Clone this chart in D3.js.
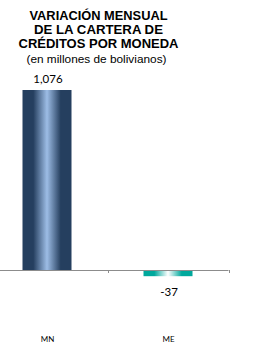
<!DOCTYPE html>
<html><head><meta charset="utf-8">
<script src="https://cdn.jsdelivr.net/npm/d3@7"></script>
<style>html,body{margin:0;padding:0;background:#fff;}svg{display:block;}</style>
</head><body>
<div id="chart"></div>
<script>
const categories = ["MN", "ME"];
const values = [1076, -37];
const valueLabels = ["1,076", "-37"];
const titleLines = ["VARIACIÓN MENSUAL", "DE LA CARTERA DE", "CRÉDITOS POR MONEDA"];
const subtitle = "(en millones de bolivianos)";

const W = 263, H = 343;
const svg = d3.select("#chart").append("svg").attr("width", W).attr("height", H);
const defs = svg.append("defs");
function grad(id, dark, light) {
  const g = defs.append("linearGradient").attr("id", id).attr("x1", "0%").attr("x2", "100%").attr("y1", "0%").attr("y2", "0%");
  [[0, dark], [0.22, dark], [0.5, light], [0.78, dark], [1, dark]].forEach(([o, c]) =>
    g.append("stop").attr("offset", o).attr("stop-color", c));
}
grad("gMN", "#253f5f", "#9dbde6");
grad("gME", "#00a89c", "#ffffff");
const fills = ["url(#gMN)", "url(#gME)"];

const x = d3.scaleBand().domain(categories).range([-13.5, 228.5]).padding(0);
const y = d3.scaleLinear().domain([0, 1076]).range([270, 90]);
const barW = x.bandwidth() * 0.405;

// title
const tg = svg.append("g").attr("font-family", "Liberation Sans, Arial, sans-serif").attr("text-anchor", "middle").attr("fill", "#000");
const titleWidths = [138, 129, 160];
titleLines.forEach((t, i) => tg.append("text").attr("x", 98.5).attr("y", 20 + i * 14)
  .attr("font-size", 12).attr("font-weight", "bold")
  .attr("textLength", titleWidths[i]).attr("lengthAdjust", "spacingAndGlyphs").text(t));
tg.append("text").attr("x", 96.5).attr("y", 63).attr("font-size", 10.5)
  .attr("textLength", 140).attr("lengthAdjust", "spacingAndGlyphs").text(subtitle);

// bars
svg.selectAll("rect.bar").data(categories).enter().append("rect")
  .attr("class", "bar")
  .attr("x", d => x(d) + (x.bandwidth() - barW) / 2)
  .attr("width", barW)
  .attr("y", (d, i) => Math.min(y(values[i]), y(0)))
  .attr("height", (d, i) => Math.abs(y(values[i]) - y(0)))
  .attr("fill", (d, i) => fills[i]);

// axis line and ticks
const axisG = svg.append("g").attr("stroke", "#8c8c8c").attr("stroke-width", 1);
axisG.append("line").attr("x1", x.range()[0]).attr("x2", x.range()[1]).attr("y1", y(0) + 0.5).attr("y2", y(0) + 0.5);
categories.forEach(c => {
  const tx = Math.round(x(c) + x.bandwidth()) + 0.5;
  axisG.append("line").attr("x1", tx).attr("x2", tx).attr("y1", y(0)).attr("y2", y(0) + 3);
});

// value labels
svg.selectAll("text.val").data(categories).enter().append("text")
  .attr("class", "val")
  .attr("x", d => x(d) + x.bandwidth() / 2 + 1)
  .attr("y", (d, i) => values[i] >= 0 ? y(values[i]) - 7 : y(values[i]) + 20)
  .attr("text-anchor", "middle")
  .attr("font-family", "Lato, Carlito, Calibri, sans-serif")
  .attr("font-size", 11.5)
  .attr("fill", "#000")
  .text((d, i) => valueLabels[i]);

// category labels
svg.selectAll("text.cat").data(categories).enter().append("text")
  .attr("class", "cat")
  .attr("x", d => x(d) + x.bandwidth() / 2 + 0.5)
  .attr("y", 342)
  .attr("text-anchor", "middle")
  .attr("font-family", "Lato, Carlito, Calibri, sans-serif")
  .attr("font-size", 8)
  .attr("fill", "#000")
  .text(d => d);
</script>
</body></html>
